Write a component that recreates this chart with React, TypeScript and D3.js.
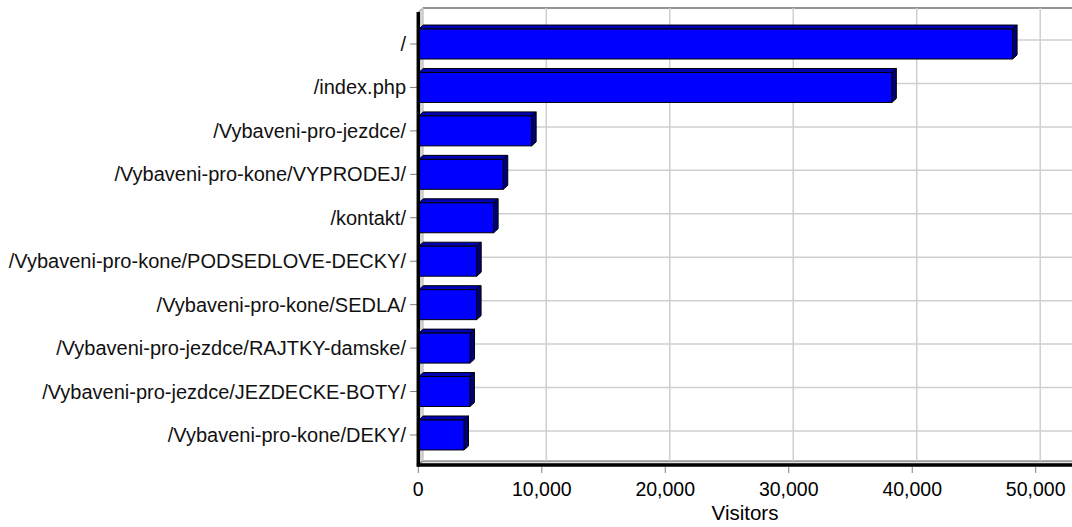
import React from 'react';
import * as d3 from 'd3';

const pages = [
  '/',
  '/index.php',
  '/Vybaveni-pro-jezdce/',
  '/Vybaveni-pro-kone/VYPRODEJ/',
  '/kontakt/',
  '/Vybaveni-pro-kone/PODSEDLOVE-DECKY/',
  '/Vybaveni-pro-kone/SEDLA/',
  '/Vybaveni-pro-jezdce/RAJTKY-damske/',
  '/Vybaveni-pro-jezdce/JEZDECKE-BOTY/',
  '/Vybaveni-pro-kone/DEKY/',
];
const visitors = [48130, 38350, 9180, 6880, 6100, 4730, 4720, 4190, 4180, 3700];
const xTicks = [0, 10000, 20000, 30000, 40000, 50000];

const WIDTH = 1072;
const HEIGHT = 527;
// 3d depth offset
const DX = 4.5;
const DY = 4;
const FONT = '"Liberation Sans", Arial, sans-serif';

const App = () => {
  const xScale = d3.scaleLinear().domain([0, 50000]).range([418.3, 1035.7]);
  const yScale = d3
    .scaleBand<string>()
    .domain(pages)
    .range([22.3, 456.7])
    .paddingInner(0.31)
    .paddingOuter(0.155);

  const top = 12;
  const bottom = 465;
  const left = xScale(0);
  const right = WIDTH + 10;
  const fmt = d3.format(',');

  return (
    <svg
      width={WIDTH}
      height={HEIGHT}
      style={{ position: 'absolute', left: 0, top: 0, background: '#fff' }}
      fontFamily={FONT}
    >
      {/* back wall */}
      <rect x={left + DX} y={top - DY} width={right - left} height={bottom - top} fill="#fff" />
      <line x1={left + DX} x2={right} y1={top - DY} y2={top - DY} stroke="#707070" strokeWidth={1.5} />

      {/* left wall */}
      <polygon
        points={`${left},${top} ${left + DX},${top - DY} ${left + DX},${bottom - DY} ${left},${bottom}`}
        fill="#d6d6d6"
        stroke="#808080"
        strokeWidth={1}
      />

      {/* floor */}
      <polygon
        points={`${left},${bottom} ${left + DX},${bottom - DY} ${right},${bottom - DY} ${right},${bottom}`}
        fill="#e0e0e0"
        stroke="#606060"
        strokeWidth={1}
      />

      {/* vertical grid */}
      {xTicks.map((t) => (
        <g key={t}>
          <line
            x1={xScale(t) + DX}
            x2={xScale(t) + DX}
            y1={top - DY}
            y2={bottom - DY}
            stroke="#cfcfcf"
            strokeWidth={1.5}
          />
          <line x1={xScale(t)} x2={xScale(t)} y1={bottom + 2} y2={bottom + 8} stroke="#808080" />
          <text x={xScale(t)} y={496} textAnchor="middle" fontSize={19.5} fill="#000">
            {fmt(t)}
          </text>
        </g>
      ))}

      {/* horizontal grid + category labels */}
      {pages.map((p) => {
        const cy = (yScale(p) as number) + yScale.bandwidth() / 2;
        return (
          <g key={p}>
            <line x1={left + DX} x2={right} y1={cy - DY} y2={cy - DY} stroke="#cfcfcf" strokeWidth={1.5} />
            <line x1={left} x2={left + DX} y1={cy} y2={cy - DY} stroke="#a0a0a0" />
            <line x1={410} x2={417} y1={cy} y2={cy} stroke="#808080" />
            <text x={406} y={cy} dy="0.35em" textAnchor="end" fontSize={20} fill="#111">
              {p}
            </text>
          </g>
        );
      })}

      {/* bars */}
      {pages.map((p, i) => {
        const y = yScale(p) as number;
        const h = yScale.bandwidth();
        const x0 = xScale(0) + 0.5;
        const x1 = xScale(visitors[i]);
        return (
          <g key={p} stroke="#000" strokeWidth={1} strokeLinejoin="round">
            <polygon
              points={`${x0},${y} ${x0 + DX},${y - DY} ${x1 + DX},${y - DY} ${x1},${y}`}
              fill="#0000b4"
            />
            <polygon
              points={`${x1},${y} ${x1 + DX},${y - DY} ${x1 + DX},${y + h - DY} ${x1},${y + h}`}
              fill="#00007a"
            />
            <rect x={x0} y={y} width={x1 - x0} height={h} fill="#0000ff" />
          </g>
        );
      })}

      {/* front axes */}
      <line x1={left} x2={left} y1={top} y2={bottom + 1.5} stroke="#000" strokeWidth={3.5} />
      <line x1={left - 1.5} x2={right} y1={bottom} y2={bottom} stroke="#000" strokeWidth={3.5} />

      <text x={745} y={520} textAnchor="middle" fontSize={20.5} fill="#000">
        Visitors
      </text>
    </svg>
  );
};

export default App;
